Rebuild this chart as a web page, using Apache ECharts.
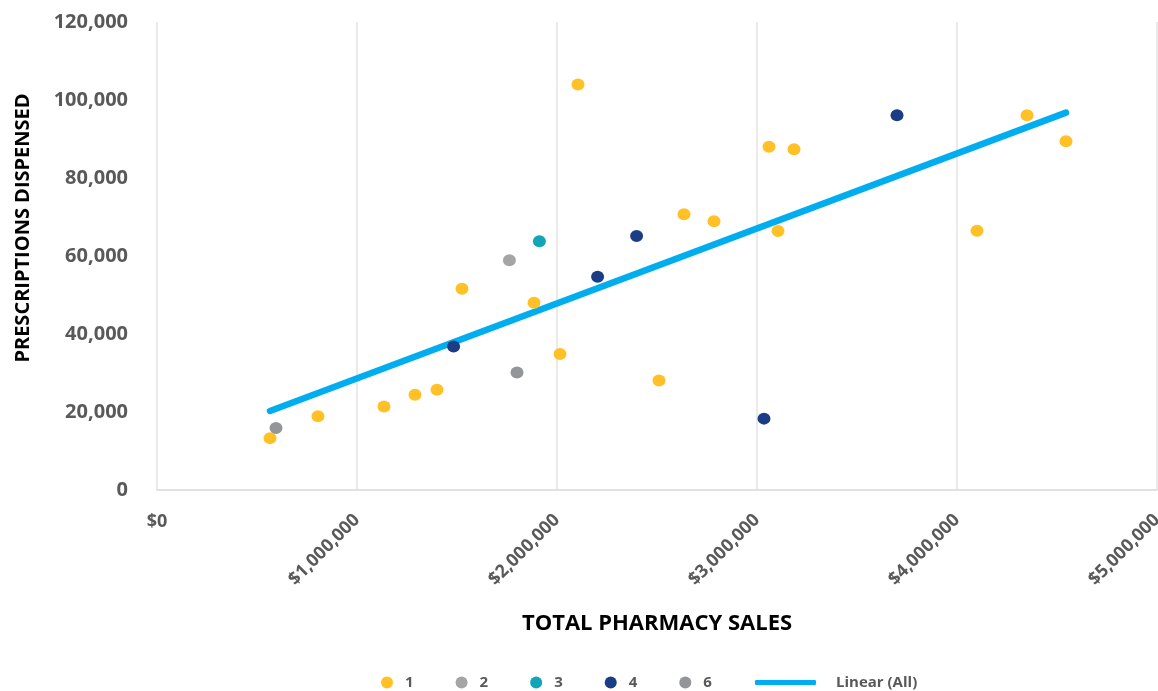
<!DOCTYPE html>
<html>
<head>
<meta charset="utf-8">
<script src="https://cdn.jsdelivr.net/npm/echarts@6/dist/echarts.min.js"></script>
<style>
  html, body { margin: 0; padding: 0; background: #ffffff; overflow: hidden; }
  #chart { width: 1158px; height: 691px; }
</style>
</head>
<body>
<div id="chart"></div>
<script>
// Pharmacies by group: [total pharmacy sales ($), prescriptions dispensed]
const group1 = [
  [565000, 13300], [805000, 18900], [1135000, 21400], [1290000, 24400],
  [1400000, 25700], [1525000, 51600], [1885000, 48000], [2015000, 34900],
  [2105000, 104000], [2510000, 28100], [2635000, 70700], [2785000, 68900],
  [3060000, 88000], [3105000, 66400], [3185000, 87400], [4100000, 66500],
  [4350000, 96100], [4545000, 89400]
];
const group2 = [[1762000, 58900]];
const group3 = [[1912000, 63800]];
const group4 = [[1483000, 36800], [2203000, 54700], [2398000, 65100], [3035000, 18300], [3700000, 96100]];
const group6 = [[595000, 15900], [1800000, 30100]];

const groupNames = ['1', '2', '3', '4', '6'];
const trendName = 'Linear (All)';

const xTicks = [0, 1000000, 2000000, 3000000, 4000000, 5000000];
const yTicks = [0, 20000, 40000, 60000, 80000, 100000, 120000];

// Least-squares fit over every pharmacy, drawn across the observed sales range
function linearFit(points) {
  const n = points.length;
  let sx = 0, sy = 0, sxx = 0, sxy = 0;
  points.forEach(([x, y]) => { sx += x; sy += y; sxx += x * x; sxy += x * y; });
  const slope = (n * sxy - sx * sy) / (n * sxx - sx * sx);
  const intercept = (sy - slope * sx) / n;
  const xs = points.map(p => p[0]);
  const x0 = Math.min(...xs), x1 = Math.max(...xs);
  return [[x0, intercept + slope * x0], [x1, intercept + slope * x1]];
}
const allPoints = [].concat(group1, group2, group3, group4, group6);
const trend = linearFit(allPoints);

const money = v => '$' + v.toLocaleString('en-US');
const labelFont = '"Open Sans", "Noto Sans", sans-serif';
const grey = '#595959';

const chart = echarts.init(document.getElementById('chart'), null, { renderer: 'canvas' });

const dot = (name, data, color) => ({
  name, type: 'scatter', data,
  symbol: 'circle', symbolSize: [13, 12],
  itemStyle: { color, opacity: 1 },
  xAxisIndex: 0, yAxisIndex: 0, z: 3
});

chart.setOption({
  animation: false,
  backgroundColor: '#ffffff',
  grid: { left: 157, right: 1, top: 22, bottom: 201, containLabel: false, outerBoundsMode: 'none' },
  xAxis: [
    {
      type: 'value', min: xTicks[0], max: xTicks[xTicks.length - 1], interval: 1000000,
      name: 'TOTAL PHARMACY SALES', nameLocation: 'middle', nameGap: 123,
      nameTextStyle: { fontFamily: labelFont, fontWeight: 'bold', fontSize: 22, color: '#000000' },
      axisLine: { show: true, lineStyle: { color: '#d9d9d9', width: 1.5 } },
      axisTick: { show: false },
      splitLine: { show: true, lineStyle: { color: '#e3e3e3', width: 1.5 } },
      axisLabel: {
        rotate: 45, margin: 27, hideOverlap: false,
        fontFamily: labelFont, fontWeight: 'bold', fontSize: 18, color: grey,
        formatter: v => (v === 0 ? '' : money(v))
      }
    },
    {
      // the $0 label sits level at the origin
      type: 'value', position: 'bottom', min: xTicks[0], max: xTicks[xTicks.length - 1], interval: 1000000,
      axisLine: { show: false }, axisTick: { show: false }, splitLine: { show: false },
      axisLabel: {
        margin: 23, rotate: 0,
        fontFamily: labelFont, fontWeight: 'bold', fontSize: 18, color: grey,
        formatter: v => (v === 0 ? money(v) : '')
      }
    }
  ],
  yAxis: {
    type: 'value', min: yTicks[0], max: yTicks[yTicks.length - 1], interval: 20000,
    axisLine: { show: false }, axisTick: { show: false }, splitLine: { show: false },
    axisLabel: {
      margin: 29, fontFamily: labelFont, fontWeight: 'bold', fontSize: 20, color: grey,
      formatter: v => v.toLocaleString('en-US')
    }
  },
  legend: [
    {
      data: groupNames, left: 381, top: 675, padding: 0,
      icon: 'circle', itemWidth: 12, itemHeight: 12, itemGap: 42,
      textStyle: { fontFamily: labelFont, fontWeight: 'bold', fontSize: 15, color: grey, padding: [0, 0, 0, 7] }
    },
    {
      data: [trendName], left: 755, top: 675, padding: 0,
      icon: 'roundRect', itemWidth: 61, itemHeight: 5,
      textStyle: { fontFamily: labelFont, fontWeight: 'bold', fontSize: 15, color: grey, padding: [0, 0, 0, 15] }
    }
  ],
  graphic: [
    {
      type: 'text', x: 23, y: 228, rotation: Math.PI / 2,
      style: {
        text: 'PRESCRIPTIONS DISPENSED', align: 'center', verticalAlign: 'middle',
        font: 'bold 20px "Open Sans", "Noto Sans", sans-serif', fill: '#000000'
      }
    }
  ],
  series: [
    {
      name: trendName, type: 'line', data: trend, symbol: 'none',
      lineStyle: { color: '#00ADEF', width: 6.5, cap: 'round' },
      itemStyle: { color: '#00ADEF' }, z: 2, silent: true
    },
    dot('1', group1, '#FFC125'),
    dot('2', group2, '#A5A5A5'),
    dot('3', group3, '#11A5B5'),
    dot('4', group4, '#1B3D86'),
    dot('6', group6, '#939598')
  ]
});
</script>
</body>
</html>
